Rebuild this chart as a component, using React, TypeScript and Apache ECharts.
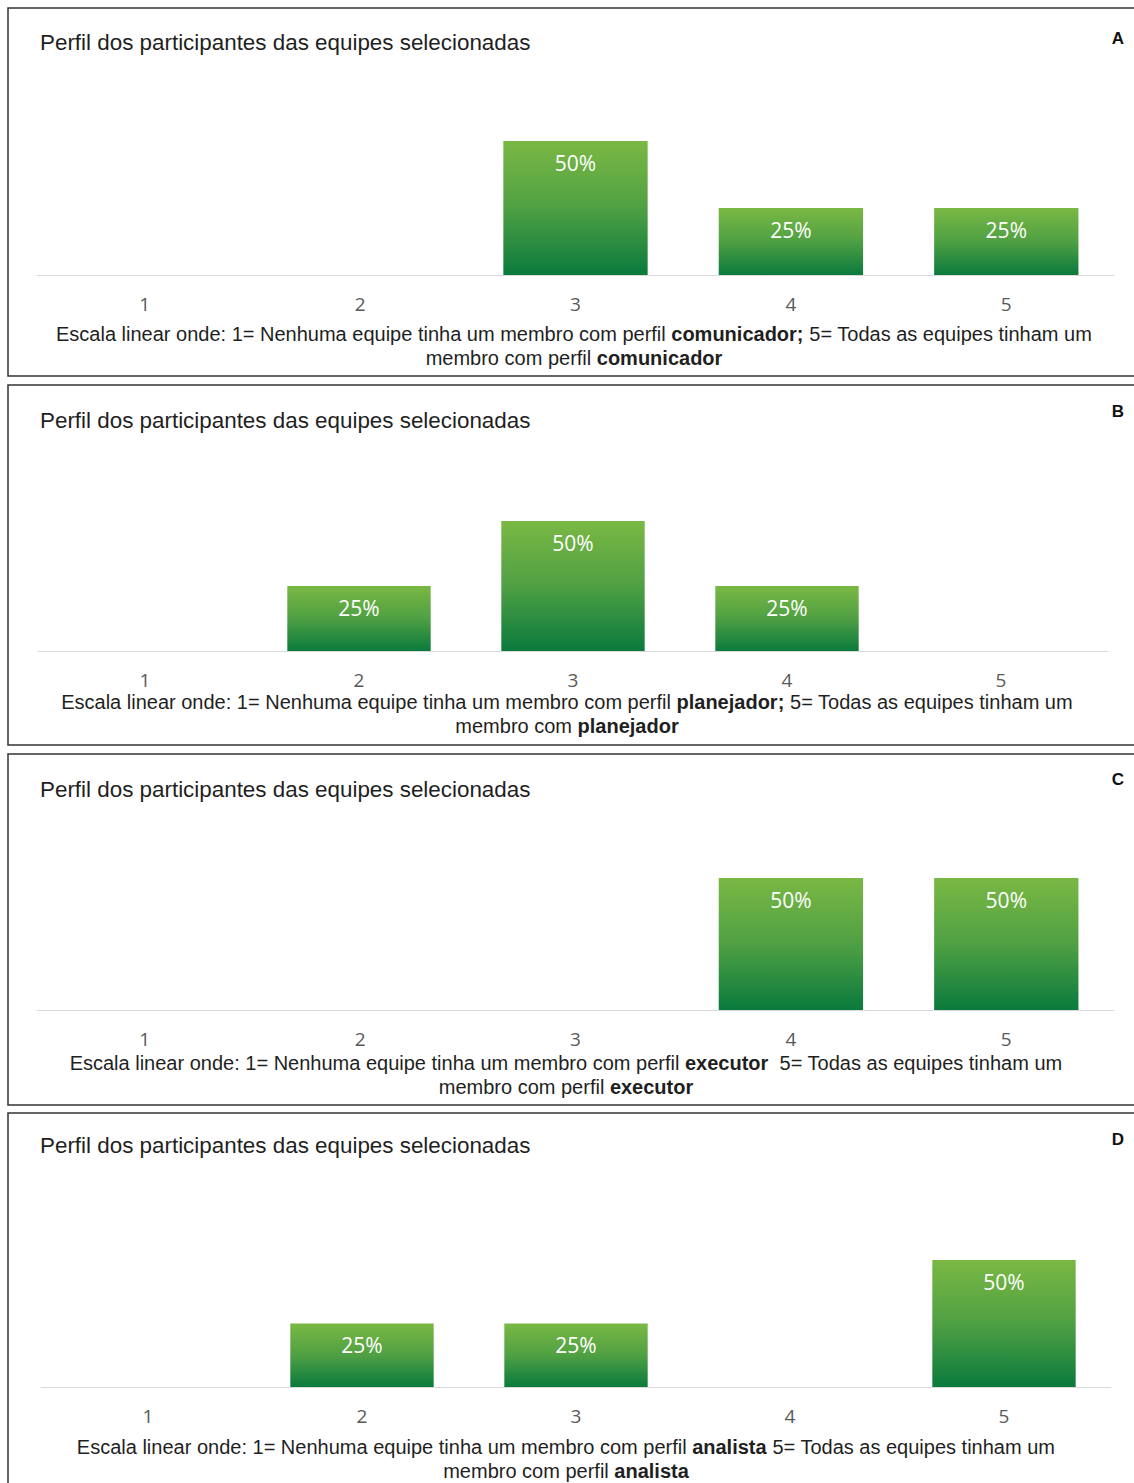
import React, { useEffect, useRef } from "react";
import * as echarts from "echarts";

const categories = ["1", "2", "3", "4", "5"];
const valuesA = [0, 0, 50, 25, 25];
const valuesB = [0, 25, 50, 25, 0];
const valuesC = [0, 0, 0, 50, 50];
const valuesD = [0, 25, 25, 0, 50];
const panelLetters = ["A", "B", "C", "D"];
const titleText = "Perfil dos participantes das equipes selecionadas";
const captionPre = [
  "Escala linear onde: 1= Nenhuma equipe tinha um membro com perfil ",
  "Escala linear onde: 1= Nenhuma equipe tinha um membro com perfil ",
  "Escala linear onde: 1= Nenhuma equipe tinha um membro com perfil ",
  "Escala linear onde: 1= Nenhuma equipe tinha um membro com perfil ",
];
const captionBold1 = ["comunicador;", "planejador;", "executor", "analista"];
const captionPost = [
  " 5= Todas as equipes tinham um",
  " 5= Todas as equipes tinham um",
  "  5= Todas as equipes tinham um",
  " 5= Todas as equipes tinham um",
];
const captionLine2Pre = ["membro com perfil ", "membro com ", "membro com perfil ", "membro com perfil "];
const captionLine2Bold = ["comunicador", "planejador", "executor", "analista"];

// layout (positions only)
const panels = [
  { boxTop: 8, boxBottom: 376, titleY: 42, letterY: 38, grid: { left: 37, width: 1077, top: 141, height: 134 }, capX: 574, capY1: 334, capY2: 358 },
  { boxTop: 385, boxBottom: 745, titleY: 420, letterY: 411, grid: { left: 38, width: 1070, top: 521, height: 130 }, capX: 567, capY1: 702, capY2: 726 },
  { boxTop: 754, boxBottom: 1105, titleY: 789, letterY: 779, grid: { left: 37, width: 1077, top: 878, height: 132 }, capX: 566, capY1: 1063, capY2: 1087 },
  { boxTop: 1113, boxBottom: 1500, titleY: 1145, letterY: 1139, grid: { left: 41, width: 1070, top: 1260, height: 127 }, capX: 566, capY1: 1447, capY2: 1471 },
];

const allValues = [valuesA, valuesB, valuesC, valuesD];

export default function App() {
  const ref = useRef<HTMLDivElement>(null);
  useEffect(() => {
    if (!ref.current) return;
    const chart = echarts.init(ref.current, undefined, { renderer: "svg" });
    const sans = "'Liberation Sans', Arial, sans-serif";
    const calib = "'Open Sans', 'Noto Sans', sans-serif";

    const grids = panels.map((p) => ({ ...p.grid }));
    const xAxes = panels.map((_, i) => ({
      type: "category",
      gridIndex: i,
      data: categories,
      axisLine: { show: true, lineStyle: { color: "#d9d9d9", width: 1 } },
      axisTick: { show: false },
      axisLabel: { color: "#595959", fontSize: 19, fontFamily: calib, margin: 19 },
      splitLine: { show: false },
    }));
    const yAxes = panels.map((_, i) => ({
      type: "value",
      gridIndex: i,
      min: 0,
      max: 50,
      show: false,
      splitLine: { show: false },
    }));
    const series = allValues.map((vals, i) => ({
      type: "bar",
      xAxisIndex: i,
      yAxisIndex: i,
      data: vals,
      barCategoryGap: "33%",
      itemStyle: {
        color: new echarts.graphic.LinearGradient(0, 0, 0, 1, [
          { offset: 0, color: "#7ab844" },
          { offset: 0.5, color: "#4fa043" },
          { offset: 1, color: "#0a7a3d" },
        ]),
      },
      label: {
        show: true,
        position: "insideTop",
        distance: 11,
        color: "#ffffff",
        fontSize: 21,
        fontFamily: calib,
        formatter: (pr: any) => (pr.value ? pr.value + "%" : ""),
      },
    }));

    const graphics: any[] = [];
    panels.forEach((p, i) => {
      graphics.push({
        type: "rect",
        shape: { x: 8, y: p.boxTop, width: 1160, height: p.boxBottom - p.boxTop },
        style: { fill: "none", stroke: "#333333", lineWidth: 1.5 },
        silent: true,
      });
      graphics.push({
        type: "text",
        x: 40,
        y: p.titleY,
        style: { text: titleText, fontSize: 22.4, fontFamily: sans, fill: "#1f1f1f", verticalAlign: "middle", align: "left" },
      });
      graphics.push({
        type: "text",
        x: 1118,
        y: p.letterY,
        style: { text: panelLetters[i], fontSize: 17, fontWeight: "bold", fontFamily: sans, fill: "#111111", verticalAlign: "middle", align: "center" },
      });
      graphics.push({
        type: "text",
        x: p.capX,
        y: p.capY1,
        style: {
          text: captionPre[i] + "{b|" + captionBold1[i] + "}" + captionPost[i],
          fontSize: 20,
          fontFamily: sans,
          fill: "#1f1f1f",
          align: "center",
          verticalAlign: "middle",
          rich: { b: { fontSize: 20, fontFamily: sans, fontWeight: "bold", fill: "#1f1f1f" } },
        },
      });
      graphics.push({
        type: "text",
        x: p.capX,
        y: p.capY2,
        style: {
          text: captionLine2Pre[i] + "{b|" + captionLine2Bold[i] + "}",
          fontSize: 20,
          fontFamily: sans,
          fill: "#1f1f1f",
          align: "center",
          verticalAlign: "middle",
          rich: { b: { fontSize: 20, fontFamily: sans, fontWeight: "bold", fill: "#1f1f1f" } },
        },
      });
    });

    chart.setOption({
      animation: false,
      backgroundColor: "#ffffff",
      grid: grids,
      xAxis: xAxes,
      yAxis: yAxes,
      series,
      graphic: graphics,
    } as any);
    return () => chart.dispose();
  }, []);
  return (
    <div
      ref={ref}
      style={{ position: "absolute", left: 0, top: 0, width: 1134, height: 1483 }}
    />
  );
}
